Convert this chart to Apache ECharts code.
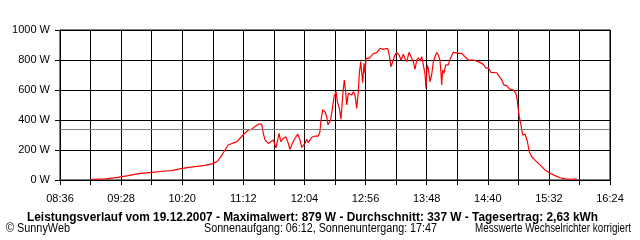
<!DOCTYPE html>
<html><head><meta charset="utf-8">
<script src="https://cdn.jsdelivr.net/npm/echarts@6/dist/echarts.min.js"></script>
<style>html,body{margin:0;padding:0;background:#fff}#c{width:640px;height:240px}</style>
</head><body><div id="c"></div>
<script>
// time of day in minutes since midnight
const times = [542.4,554.3,565.4,573.9,584.1,594.3,605.3,611.3,619.8,630.9,639.4,646.2,650.4,654.7,659,666.6,671.7,673.4,676.2,679.1,681.9,685.3,687.6,689,690.4,693.2,694.7,697.5,699,699.8,700.9,702.4,703.8,706,708.1,709.8,711.7,713.7,716,718.3,720.2,721.7,723,724.5,725.9,727.3,730.2,733,735.8,737.2,738.1,739.5,741.5,742.9,744,746.3,748,749.2,750.9,752,753.7,755.1,756.6,757.9,758.8,760,761.3,762.8,764.2,765.6,767,768.5,769.8,770.7,771.9,772.8,773.6,774.7,775.5,776.4,779.2,782.1,785.5,788.3,791.1,794.8,796.2,797.6,799.1,801,802.5,804.5,806.2,808.1,809.6,811,813,814.7,816.6,818.1,819.5,820.9,822.3,823.8,825.1,826.6,827.4,828.5,829.4,830.8,832.3,833.6,835.1,836.5,837.9,839.3,840.2,840.8,841.6,842.7,844.2,846.4,847.9,849.3,850.7,852.1,854.9,857.8,859.2,863.4,867.7,871.9,876.2,878.5,880.5,882.5,887.6,889.8,891.9,893.8,896.1,898.3,901.7,904,905.1,906,906.8,908,909.7,911.7,913.6,915.3,917.4,920.2,923,925.9,928.7,933,937.2,941.5,945.7,951.4,955.7];
// power in W
const watts = [5,8,18,29,44,51,60,62,78,89,98,109,129,178,233,256,300,311,333,338,356,373,373,311,267,244,233,267,278,215,255,311,255,278,289,255,205,244,278,307,267,218,205,244,271,249,285,293,293,322,400,467,455,422,367,400,489,555,589,522,478,405,567,667,611,500,578,589,567,589,567,478,589,711,789,711,649,778,711,811,811,840,849,878,871,878,833,755,789,833,851,833,800,838,807,789,851,844,789,738,800,815,793,822,771,705,611,767,744,655,705,785,822,851,833,800,711,633,733,711,767,767,807,811,851,838,844,844,833,800,800,789,771,745,749,718,715,689,667,633,629,607,600,578,533,467,422,378,300,307,260,189,155,133,111,89,67,45,29,15,7,5,7];
const average = 337;
const startMin = 516;   // 08:36
const endMin = 984;     // 16:24
const yTicks = [0, 200, 400, 600, 800, 1000];
const titleText = 'Leistungsverlauf vom 19.12.2007 - Maximalwert: 879 W - Durchschnitt: 337 W - Tagesertrag: 2,63 kWh';
const footLeft = '© SunnyWeb';
const footMid = 'Sonnenaufgang: 06:12, Sonnenuntergang: 17:47';
const footRight = 'Messwerte Wechselrichter korrigiert';

const FONT = "'Liberation Sans',Arial,sans-serif";
function hhmm(m){const h=Math.floor(m/60), mm=Math.round(m%60);return (h<10?'0':'')+h+':'+(mm<10?'0':'')+mm;}
const data = times.map((t,i)=>[t-startMin, watts[i]]);

const ctx = document.createElement('canvas').getContext('2d');
function textEl(text, font, left, width, y){
  ctx.font = font;
  const w = ctx.measureText(text).width;
  return {type:'text', x:left, y:y, scaleX: width/w, silent:true,
    style:{text:text, font:font, fill:'#000', textAlign:'left', textVerticalAlign:'middle', x:0, y:0}};
}

const chart = echarts.init(document.getElementById('c'), null, {renderer:'canvas'});
chart.setOption({
  animation:false,
  backgroundColor:'#fff',
  grid:{left:60,right:30,top:30,bottom:60,show:true,borderColor:'#000',borderWidth:1},
  graphic:[
    textEl(titleText, "bold 12px "+FONT, 27, 571, 217.5),
    textEl(footLeft, "12px "+FONT, 6, 64, 228.5),
    textEl(footMid, "12px "+FONT, 204, 233, 228.5),
    textEl(footRight, "12px "+FONT, 475, 156, 228.5)
  ],
  xAxis:{type:'value',min:0,max:endMin-startMin,interval:26,
    axisLine:{lineStyle:{color:'#000',width:1}},
    axisTick:{show:true,length:5,lineStyle:{color:'#000'}},
    splitLine:{show:true,lineStyle:{color:'#000',width:1}},
    axisLabel:{color:'#000',fontFamily:FONT,fontSize:11,margin:13,
      formatter:v=> (Math.round(v)%52===0)? hhmm(v+startMin):''}},
  yAxis:{type:'value',min:yTicks[0],max:yTicks[yTicks.length-1],interval:200,
    axisLine:{show:true,lineStyle:{color:'#000'}},
    axisTick:{show:true,length:5,lineStyle:{color:'#000'}},
    splitLine:{show:true,lineStyle:{color:'#000',width:1}},
    axisLabel:{color:'#000',fontFamily:FONT,fontSize:11,margin:10,formatter:v=>v+' W'}},
  series:[{type:'line',data:data,symbol:'none',lineStyle:{color:'#ff0000',width:1.2},
    markLine:{silent:true,symbol:'none',label:{show:false},lineStyle:{color:'#808080',type:'solid',width:1},
      data:[{yAxis:average}]}}]
});
</script></body></html>
